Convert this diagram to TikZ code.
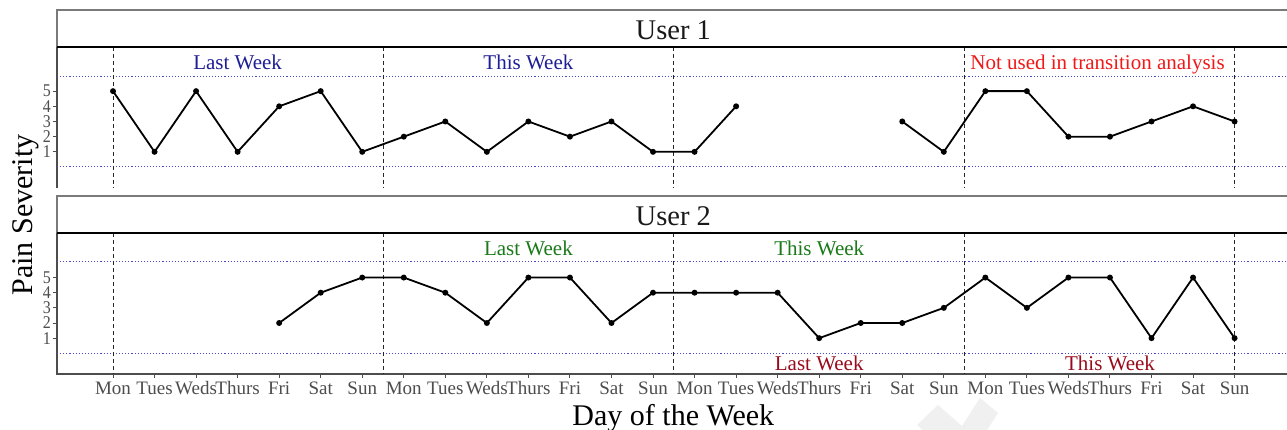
\documentclass[tikz,border=0pt]{standalone}
\usepackage{fontspec}
\setmainfont{Liberation Serif}

\definecolor{axisgray}{HTML}{4D4D4D}
\definecolor{stripgray}{HTML}{7A7A7A}
\definecolor{guideblue}{HTML}{4A4AC8}
\definecolor{lblblue}{HTML}{1E1E96}
\definecolor{lblred}{HTML}{F01818}
\definecolor{lblgreen}{HTML}{1A7A1A}
\definecolor{lbldarkred}{HTML}{9A0C1C}
\definecolor{marklight}{HTML}{F0F0F0}

\tikzset{
  dataline/.style={line width=1.8pt, line join=round, black},
  datadot/.style={fill=black},
  weekline/.style={dash pattern=on 4pt off 3pt, line width=1pt, black!85},
  guideline/.style={dash pattern=on 1.1pt off 2pt, line width=1pt, guideblue},
  axisline/.style={line width=1.2pt, axisgray},
  stripedge/.style={line width=1.2pt, stripgray},
  stripbase/.style={line width=2.2pt, black},
  daytext/.style={font=\fontsize{19}{19}\selectfont, text=axisgray, inner sep=0pt, anchor=base},
  sevtext/.style={font=\fontsize{16}{16}\selectfont, text=axisgray, inner sep=0pt, anchor=east, yscale=1.12},
  striptext/.style={font=\fontsize{28.5}{28.5}\selectfont, text=black!90, inner sep=0pt, anchor=base},
  titletext/.style={font=\fontsize{30}{30}\selectfont, text=black, inner sep=0pt, anchor=base},
  weektext/.style={font=\fontsize{21}{21}\selectfont, inner sep=0pt, anchor=base},
}

\begin{document}
\begin{tikzpicture}[x=1pt, y=-1pt]
  \useasboundingbox (0,0) rectangle (1287,430);
  \fill[white] (0,0) rectangle (1287,430);

  % faint chevron mark below the axis
  \begin{scope}
    \clip (0,0) rectangle (1287,430);
    \fill[marklight] (917,425) -- (938,405) -- (962,426) -- (980,398) -- (998,413) -- (964,466) -- cycle;
  \end{scope}

  % ---------- panel frames ----------
  \draw[stripedge] (1287,10) -- (57,10) -- (57,47);
  \draw[axisline] (57,47) -- (57,188);
  \draw[stripedge] (1287,196) -- (57,196) -- (57,233);
  \draw[axisline] (57,233) -- (57,374) -- (1287,374);

  % guide lines at severity 0 and 6
  \draw[guideline] (57,76.7) -- (1287,76.7);
  \draw[guideline] (57,167) -- (1287,167);
  \draw[guideline] (57,262) -- (1287,262);
  \draw[guideline] (57,353.3) -- (1287,353.3);

  % week boundaries
  \foreach \k in {0,6.5,13.5,20.5,27} {
    \draw[weekline] (113+41.54*\k,47) -- (113+41.54*\k,188);
    \draw[weekline] (113+41.54*\k,233) -- (113+41.54*\k,374);
  }

  \draw[stripbase] (57,47) -- (1287,47);
  \draw[stripbase] (57,233) -- (1287,233);

  % ---------- severity axis ----------
  \foreach \v in {1,...,5} {
    \draw[axisline, line width=1pt] (52.5,167-15.17*\v) -- (57,167-15.17*\v);
    \node[sevtext] (sa\v) at (51,167-15.17*\v) {\v};
    \draw[axisline, line width=1pt] (52.5,353.3-15.15*\v) -- (57,353.3-15.15*\v);
    \node[sevtext] (sb\v) at (51,353.3-15.15*\v) {\v};
  }

  % ---------- day axis ----------
  \foreach \i in {0,...,27}
    \draw[axisline, line width=1pt] (113+41.54*\i,374) -- (113+41.54*\i,378);
  \foreach \w in {0,1,2,3} {
    \foreach \d/\n in {0/Mon,1/Tues,2/Weds,3/Thurs,4/Fri,5/Sat,6/Sun} {
      \pgfmathtruncatemacro\i{7*\w+\d}
      \node[daytext] (day\i) at (113+41.54*\i,394) {\n};
    }
  }

  % ---------- User 1 ----------
  \begin{scope}[shift={(113pt,-167pt)}, x=41.54pt, y=15.17pt]
    \foreach \i/\v in {0/5,1/1,2/5,3/1,4/4,5/5,6/1,7/2,8/3,9/1,10/3,11/2,12/3,13/1,14/1,15/4,
                       19/3,20/1,21/5,22/5,23/2,24/2,25/3,26/4,27/3}
      \coordinate (a\i) at (\i,\v);
  \end{scope}
  \draw[dataline] (a0) \foreach \i in {1,...,15} { -- (a\i) };
  \draw[dataline] (a19) \foreach \i in {20,...,27} { -- (a\i) };
  \foreach \i in {0,...,15,19,20,...,27}
    \fill[datadot] (a\i) circle (3pt);

  % ---------- User 2 ----------
  \begin{scope}[shift={(113pt,-353.3pt)}, x=41.54pt, y=15.15pt]
    \foreach \i/\v in {4/2,5/4,6/5,7/5,8/4,9/2,10/5,11/5,12/2,13/4,14/4,15/4,16/4,
                       17/1,18/2,19/2,20/3,21/5,22/3,23/5,24/5,25/1,26/5,27/1}
      \coordinate (b\i) at (\i,\v);
  \end{scope}
  \draw[dataline] (b4) \foreach \i in {5,...,27} { -- (b\i) };
  \foreach \i in {4,...,27}
    \fill[datadot] (b\i) circle (3pt);

  % ---------- texts ----------
  \node[striptext] (u1) at (673.3,40) {User 1};
  \node[striptext] (u2) at (673.3,225.5) {User 2};

  \node[weektext, text=lblblue] (lw1) at (237.6,70) {Last Week};
  \node[weektext, text=lblblue] (tw1) at (528.4,70) {This Week};
  \node[weektext, text=lblred] (nu1) at (1097.5,70) {Not used in transition analysis};

  \node[weektext, text=lblgreen] (lw2) at (528.4,255.7) {Last Week};
  \node[weektext, text=lblgreen] (tw2) at (819.2,255.7) {This Week};
  \node[weektext, text=lbldarkred] (lw3) at (819.2,370) {Last Week};
  \node[weektext, text=lbldarkred] (tw3) at (1110,370) {This Week};

  \node[titletext] (xt) at (673.3,425) {Day of the Week};
  \node[titletext, rotate=90] (yt) at (32.5,215) {Pain Severity};
\end{tikzpicture}
\end{document}
